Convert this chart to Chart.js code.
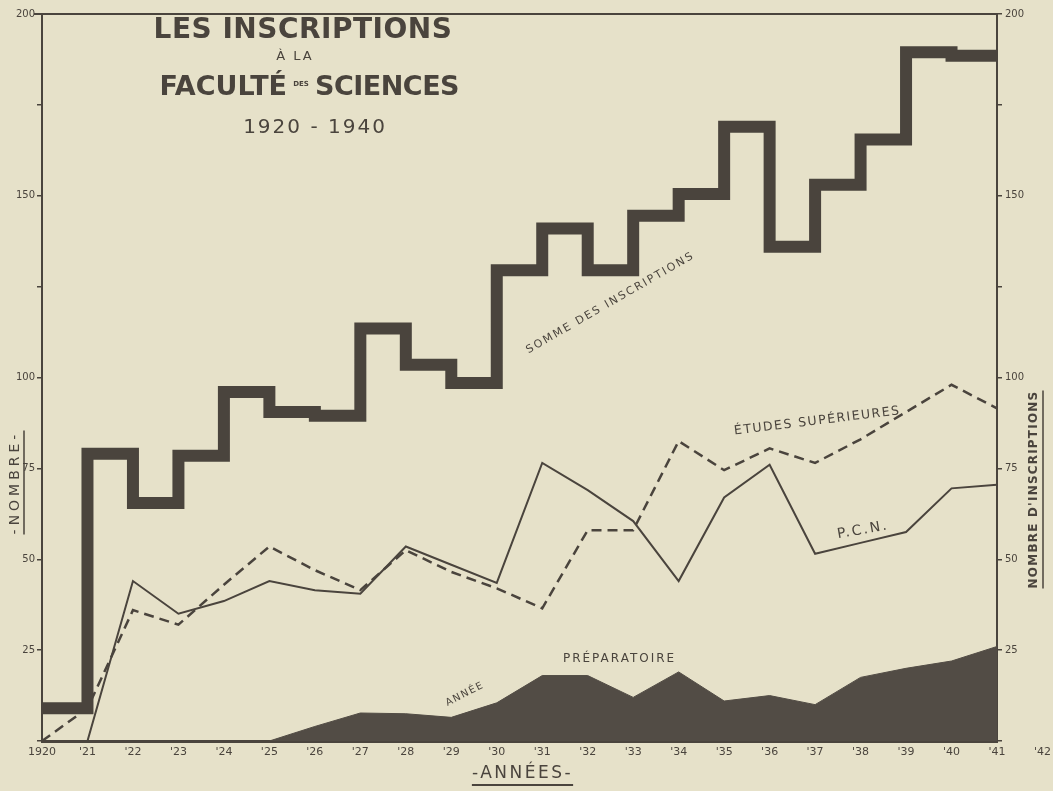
<!DOCTYPE html>
<html lang="fr">
<head>
<meta charset="utf-8">
<title>Les inscriptions à la Faculté des Sciences 1920-1940</title>
<script src="https://cdn.jsdelivr.net/npm/chart.js@4.4.1/dist/chart.umd.min.js"></script>
<style>
  html, body { margin: 0; padding: 0; background: #e6e1c9; overflow: hidden; }
  canvas { display: block; background: #e6e1c9; }
</style>
</head>
<body>
<canvas id="chart" width="1053" height="791"></canvas>
<script>
// Données (une valeur par année, 1920 -> 1941)
const years = [1920, 1921, 1922, 1923, 1924, 1925, 1926, 1927, 1928, 1929, 1930,
               1931, 1932, 1933, 1934, 1935, 1936, 1937, 1938, 1939, 1940, 1941];

// Somme des inscriptions (palier de l'année jusqu'à l'année suivante)
const sommeInscriptions = [9, 79, 65.5, 78.5, 96, 90.5, 89.5, 113.5, 103.5, 98.5, 129.5,
                           141, 129.5, 144.5, 150.5, 169, 136, 153, 165.5, 189.5, 188.5, 188.5];

// P.C.N.
const pcn = [null, 0, 44, 35, 38.5, 44, 41.5, 40.5, 53.5, 48.5, 43.5,
             76.5, 69, 60.5, 44, 67, 76, 51.5, 54.5, 57.5, 69.5, 70.5];

// Études supérieures
const etudesSup = [0, 9, 36, 32, 43, 53.5, 47, 41.5, 52.5, 46.5, 42,
                   36.5, 58, 58, 82.5, 74.5, 80.5, 76.5, 83, 90.5, 98, 91.5];

// Année préparatoire
const anneePrep = [null, null, null, null, null, 0, 4, 7.7, 7.5, 6.5, 10.5,
                   18, 18, 12, 19, 11, 12.5, 10, 17.5, 20, 22, 26];

const yTickLabels = [25, 50, 75, 100, 150, 200];
const extraYearLabel = 1942;

const INK = '#4a443d';
const FILL = '#524c45';
const FONT = '"DejaVu Sans", sans-serif';

const toPoints = vals => years.map((yr, i) => ({ x: yr, y: vals[i] }));
const yearLabel = v => (v === 1920 ? '1920' : "'" + String(v).slice(2));

function drawText(ctx, text, px, py, o) {
    ctx.save();
    ctx.translate(px, py);
    ctx.rotate((o.angle || 0) * Math.PI / 180);
    ctx.font = o.font;
    ctx.letterSpacing = (o.spacing || 0) + 'px';
    ctx.textAlign = o.align || 'center';
    ctx.textBaseline = 'middle';
    ctx.fillText(text, 0, 0);
    if (o.underline) {
        const w = ctx.measureText(text).width;
        const x0 = o.align === 'left' ? 0 : -w / 2;
        ctx.lineWidth = o.underline;
        ctx.beginPath();
        ctx.moveTo(x0, o.ulOffset);
        ctx.lineTo(x0 + w, o.ulOffset);
        ctx.stroke();
    }
    ctx.restore();
}

// Textes écrits à la main sur le graphique
const inkLabels = {
    id: 'inkLabels',
    afterDraw(chart) {
        const { ctx, chartArea: a, scales: { x, y } } = chart;
        ctx.save();
        ctx.fillStyle = INK;
        ctx.strokeStyle = INK;

        // cadre du haut
        ctx.lineWidth = 2;
        ctx.beginPath();
        ctx.moveTo(a.left - 8, a.top);
        ctx.lineTo(a.right, a.top);
        ctx.stroke();

        // '42 au-delà de l'axe de droite
        const tf = x.options.ticks.font;
        drawText(ctx, yearLabel(extraYearLabel), x.getPixelForValue(extraYearLabel),
            x.top + x.options.ticks.padding + tf.size * 0.6, { font: tf.size + 'px ' + FONT });

        // titre
        const tx = a.left + 261;
        drawText(ctx, 'LES INSCRIPTIONS', tx, a.top + 17, { font: 'bold 28px ' + FONT, spacing: 0.5 });
        drawText(ctx, 'À LA', tx - 8, a.top + 43, { font: '13px ' + FONT, spacing: 2 });
        drawText(ctx, 'FACULTÉ', tx - 16, a.top + 74, { font: 'bold 27px ' + FONT, align: 'right' });
        drawText(ctx, 'DES', tx - 2, a.top + 70, { font: 'bold 7px ' + FONT });
        drawText(ctx, 'SCIENCES', tx + 12, a.top + 74, { font: 'bold 27px ' + FONT, align: 'left', spacing: -0.5 });
        drawText(ctx, '1920 - 1940', tx + 12, a.top + 114, { font: '20px ' + FONT, spacing: 2 });

        // légendes des courbes
        const at = (yr, v) => [x.getPixelForValue(yr), y.getPixelForValue(v)];
        drawText(ctx, 'SOMME DES INSCRIPTIONS', ...at(1932.5, 120.5), { font: '11px ' + FONT, spacing: 2, angle: -30 });
        drawText(ctx, 'ÉTUDES SUPÉRIEURES', ...at(1937.05, 88), { font: '12.5px ' + FONT, spacing: 1.5, angle: -7 });
        drawText(ctx, 'P.C.N.', ...at(1938.05, 58), { font: '14px ' + FONT, spacing: 2, angle: -10 });
        drawText(ctx, 'ANNÉE', ...at(1929.3, 12.9), { font: '10px ' + FONT, spacing: 1.5, angle: -27 });
        drawText(ctx, 'PRÉPARATOIRE', ...at(1932.7, 22.5), { font: '12px ' + FONT, spacing: 2 });

        // titres des axes
        drawText(ctx, '-ANNÉES-', (a.left + a.right) / 2 + 3, chart.height - 17,
            { font: '17px ' + FONT, spacing: 2.5, underline: 2, ulOffset: 11 });
        ctx.save();
        ctx.translate(15, (a.top + a.bottom) / 2 + 105);
        ctx.rotate(-Math.PI / 2);
        drawText(ctx, '-NOMBRE-', 0, 0, { font: '14px ' + FONT, spacing: 4, underline: 1.5, ulOffset: 9 });
        ctx.restore();
        ctx.save();
        ctx.translate(chart.width - 19, (a.top + a.bottom) / 2 + 112);
        ctx.rotate(-Math.PI / 2);
        drawText(ctx, "NOMBRE D'INSCRIPTIONS", 0, 0, { font: 'bold 12px ' + FONT, spacing: 1.2, underline: 1.5, ulOffset: 9 });
        ctx.restore();

        ctx.restore();
    }
};

const yTickCallback = v => (yTickLabels.includes(v) ? v : '');

new Chart(document.getElementById('chart'), {
    type: 'line',
    data: {
        datasets: [
            {
                label: 'Somme des inscriptions',
                data: toPoints(sommeInscriptions),
                stepped: 'before',
                borderColor: INK,
                borderWidth: 12,
                borderJoinStyle: 'miter',
                borderCapStyle: 'butt',
                pointRadius: 0,
                order: 0
            },
            {
                label: 'P.C.N.',
                data: toPoints(pcn),
                borderColor: INK,
                borderWidth: 2,
                pointRadius: 0,
                order: 1
            },
            {
                label: 'Études supérieures',
                data: toPoints(etudesSup),
                borderColor: INK,
                borderWidth: 2.5,
                borderDash: [10, 6],
                pointRadius: 0,
                order: 2
            },
            {
                label: 'Année préparatoire',
                data: toPoints(anneePrep),
                borderColor: FILL,
                backgroundColor: FILL,
                borderWidth: 1,
                fill: 'origin',
                pointRadius: 0,
                order: 3
            }
        ]
    },
    options: {
        responsive: false,
        animation: false,
        layout: { padding: { top: 14, left: 0, right: 0, bottom: 0 } },
        plugins: {
            legend: { display: false },
            tooltip: { enabled: false }
        },
        scales: {
            x: {
                type: 'linear',
                min: 1920,
                max: 1941,
                afterFit: s => { s.height = 50; },
                grid: { display: false, drawTicks: false },
                border: { color: INK, width: 3 },
                ticks: {
                    stepSize: 1,
                    autoSkip: false,
                    maxRotation: 0,
                    padding: 5,
                    color: INK,
                    font: { family: FONT, size: 11 },
                    callback: yearLabel
                }
            },
            y: {
                position: 'left',
                min: 0,
                max: 200,
                afterFit: s => { s.width = 42; },
                grid: { drawOnChartArea: false, tickLength: 5, color: INK, lineWidth: 1.5 },
                border: { color: INK, width: 2 },
                ticks: { stepSize: 25, padding: 2, color: INK, font: { family: FONT, size: 10 }, callback: yTickCallback }
            },
            y2: {
                position: 'right',
                min: 0,
                max: 200,
                afterFit: s => { s.width = 56; },
                grid: { drawOnChartArea: false, tickLength: 5, color: INK, lineWidth: 1.5 },
                border: { color: INK, width: 2 },
                ticks: { stepSize: 25, padding: 3, color: INK, font: { family: FONT, size: 10 }, callback: yTickCallback }
            }
        }
    },
    plugins: [inkLabels]
});
</script>
</body>
</html>
